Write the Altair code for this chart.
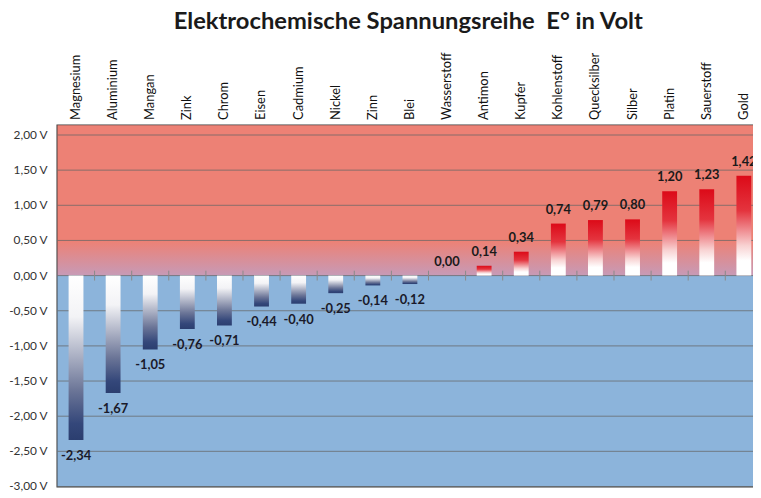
import altair as alt
import pandas as pd

# ---- data ----
elements = ["Magnesium", "Aluminium", "Mangan", "Zink", "Chrom", "Eisen", "Cadmium",
            "Nickel", "Zinn", "Blei", "Wasserstoff", "Antimon", "Kupfer", "Kohlenstoff",
            "Quecksilber", "Silber", "Platin", "Sauerstoff", "Gold"]
potentials = [-2.34, -1.67, -1.05, -0.76, -0.71, -0.44, -0.40, -0.25, -0.14, -0.12,
              0.00, 0.14, 0.34, 0.74, 0.79, 0.80, 1.20, 1.23, 1.42]
value_labels = [f"{v:.2f}".replace(".", ",") for v in potentials]
y_ticks = [-3.0, -2.5, -2.0, -1.5, -1.0, -0.5, 0.0, 0.5, 1.0, 1.5, 2.0]
y_tick_labels = [f"{t:.2f} V".replace(".", ",") for t in y_ticks]

df = pd.DataFrame({"element": elements, "E": potentials, "label": value_labels})
grid_df = pd.DataFrame({"t": y_ticks, "tl": y_tick_labels})
bg_df = pd.DataFrame({"k": [0]})

PLOT_W = 703
PLOT_H = 365
FONT = "Lato"

x_enc = alt.X(
    "element:N", sort=elements,
    scale=alt.Scale(range=[0, 712.5], paddingInner=0.6, paddingOuter=0.3),
    axis=alt.Axis(orient="top", labelAngle=-90, labelAlign="left", labelBaseline="middle",
                  labelPadding=6, labelFontSize=13, labelColor="#111111", labelFont=FONT,
                  domain=False, ticks=False, title=None, labelOverlap=False),
)
y_scale = alt.Scale(domain=[-3.0, 2.137], nice=False, zero=False)
hidden_y_axis = alt.Axis(labels=False, ticks=False, domain=False, grid=False, title=None)

bg_grad = alt.LinearGradient(
    gradient="linear", x1=0, x2=0, y1=0, y2=1,
    stops=[alt.GradientStop(color="#ED8175", offset=0),
           alt.GradientStop(color="#ED8175", offset=0.32),
           alt.GradientStop(color="#C79AB6", offset=0.415),
           alt.GradientStop(color="#8CB4DB", offset=0.4165),
           alt.GradientStop(color="#8CB4DB", offset=1)],
)
neg_grad = alt.LinearGradient(
    gradient="linear", x1=0, x2=0, y1=0, y2=1,
    stops=[alt.GradientStop(color="#ffffff", offset=0),
           alt.GradientStop(color="#f3f3f6", offset=0.25),
           alt.GradientStop(color="#6b7597", offset=0.7),
           alt.GradientStop(color="#34477a", offset=0.9),
           alt.GradientStop(color="#2b3e6f", offset=1)],
)
pos_grad = alt.LinearGradient(
    gradient="linear", x1=0, x2=0, y1=0, y2=1,
    stops=[alt.GradientStop(color="#dc0a18", offset=0),
           alt.GradientStop(color="#e4343e", offset=0.35),
           alt.GradientStop(color="#f8d2d2", offset=0.7),
           alt.GradientStop(color="#ffffff", offset=0.85),
           alt.GradientStop(color="#ffffff", offset=1)],
)

background = alt.Chart(bg_df).mark_rect(color=bg_grad).encode(
    x=alt.value(0), x2=alt.value(PLOT_W), y=alt.value(0), y2=alt.value(PLOT_H)
)

grid = alt.Chart(grid_df).mark_rule(color="#666666", strokeWidth=1, opacity=0.75).encode(
    y=alt.Y("t:Q", scale=y_scale, axis=hidden_y_axis)
)
y_labels = alt.Chart(grid_df).mark_text(
    align="right", baseline="middle", fontSize=12, color="#333333", font=FONT, dx=-10
).encode(x=alt.value(0), y=alt.Y("t:Q", scale=y_scale, axis=None), text="tl:N")

base = alt.Chart(df)
y_enc = alt.Y("E:Q", scale=y_scale, axis=None)

neg_bars = base.transform_filter("datum.E < 0").mark_bar(color=neg_grad).encode(
    x=x_enc, y=y_enc, y2=alt.datum(0)
)
pos_bars = base.transform_filter("datum.E > 0").mark_bar(color=pos_grad).encode(
    x=x_enc, y=y_enc, y2=alt.datum(0)
)

neg_text = base.transform_filter("datum.E < 0").mark_text(
    dy=16, fontSize=13, fontWeight="bold", color="#1a1a2a", baseline="middle", font=FONT
).encode(x=x_enc, y=y_enc, text="label:N")
pos_text = base.transform_filter("datum.E >= 0").mark_text(
    dy=-14, fontSize=13, fontWeight="bold", color="#1a1a1a", baseline="middle", font=FONT
).encode(x=x_enc, y=y_enc, text="label:N")

zero_ticks = base.mark_rule(xOffset=18.75, color="#8a8a8a", strokeWidth=1).encode(
    x=x_enc, y=alt.datum(0.07), y2=alt.datum(-0.07)
)

chart = alt.layer(
    background, grid, zero_ticks, neg_bars, pos_bars, neg_text, pos_text, y_labels
).properties(
    width=PLOT_W, height=PLOT_H,
    autosize=alt.AutoSizeParams(type="none"),
    padding={"left": 50, "top": 116, "right": 0, "bottom": 9},
    title=alt.Title("Elektrochemische Spannungsreihe\u00a0 E° in Volt", fontSize=24,
                    fontWeight="bold", font=FONT, color="#1a1a1a", anchor="middle",
                    offset=18, dx=3),
).configure_view(stroke="#3a3a3a", strokeWidth=2)

chart.save("out.html", embed_options={"renderer": "svg", "actions": False})
